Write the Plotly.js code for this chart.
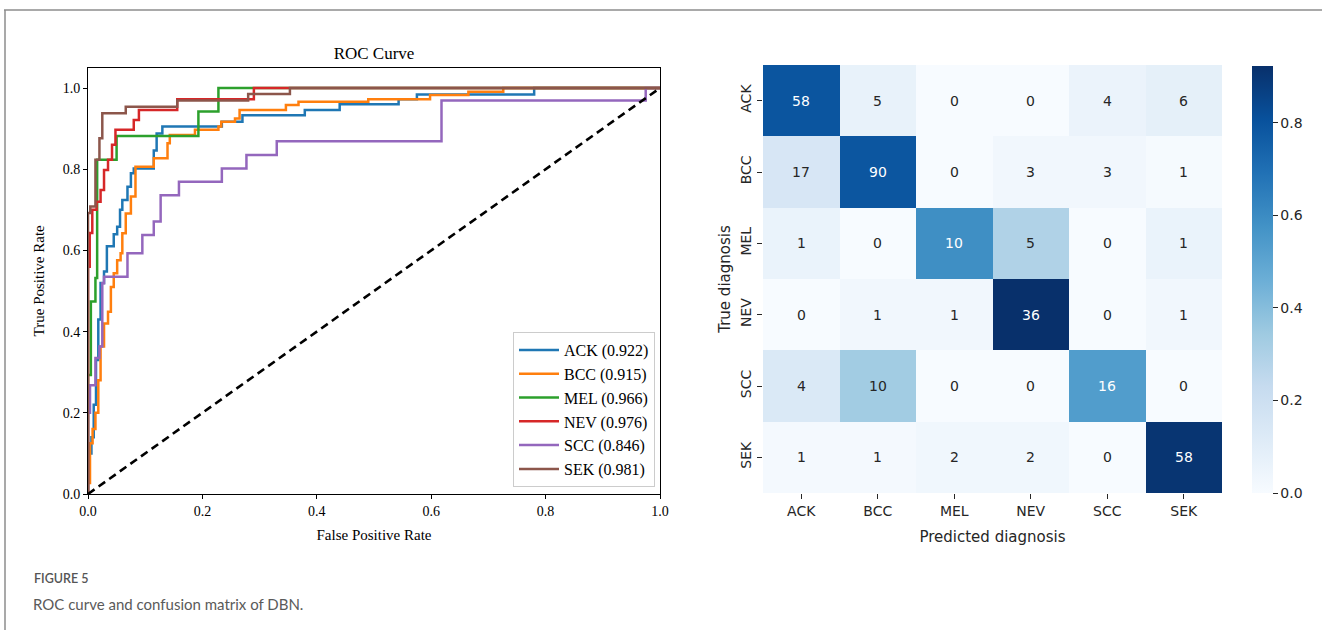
<!DOCTYPE html>
<html>
<head>
<meta charset="utf-8">
<script src="https://cdn.plot.ly/plotly-3.0.1.min.js"></script>
<style>
html,body{margin:0;padding:0;background:#fff;}
#chart{width:1322px;height:630px;}
</style>
</head>
<body>
<div id="chart"></div>
<script>
// ---------- ROC data (corner points) ----------
const classNames = ["ACK", "BCC", "MEL", "NEV", "SCC", "SEK"];
const aucValues = [0.922, 0.915, 0.966, 0.976, 0.846, 0.981];

const ackFpr = [0,0,0.006,0.006,0.010,0.010,0.014,0.014,0.018,0.018,0.022,0.022,0.028,0.028,0.033,0.033,0.045,0.045,0.051,0.051,0.056,0.056,0.060,0.060,0.069,0.069,0.075,0.075,0.080,0.080,0.115,0.115,0.120,0.120,0.130,0.130,0.234,0.234,0.270,0.270,0.379,0.379,0.440,0.440,0.543,0.543,0.575,0.575,0.780,0.780,1];
const ackTpr = [0,0.10,0.10,0.14,0.14,0.22,0.22,0.33,0.33,0.43,0.43,0.52,0.52,0.548,0.548,0.61,0.61,0.64,0.64,0.658,0.658,0.70,0.70,0.724,0.724,0.757,0.757,0.79,0.79,0.802,0.802,0.846,0.846,0.888,0.888,0.905,0.905,0.917,0.917,0.933,0.933,0.946,0.946,0.96,0.96,0.972,0.972,0.984,0.984,1.0,1.0];

const bccFpr = [0,0,0.0035,0.0035,0.008,0.008,0.013,0.013,0.018,0.018,0.022,0.022,0.028,0.028,0.035,0.035,0.040,0.040,0.045,0.045,0.051,0.051,0.057,0.057,0.060,0.060,0.066,0.066,0.075,0.075,0.083,0.083,0.115,0.115,0.139,0.139,0.143,0.143,0.187,0.187,0.228,0.228,0.233,0.233,0.257,0.257,0.265,0.265,0.346,0.346,0.368,0.368,0.490,0.490,0.598,0.598,0.665,0.665,0.726,0.726,1];
const bccTpr = [0,0.027,0.027,0.125,0.125,0.16,0.16,0.20,0.20,0.28,0.28,0.363,0.363,0.42,0.42,0.449,0.449,0.51,0.51,0.544,0.544,0.576,0.576,0.593,0.593,0.642,0.642,0.691,0.691,0.733,0.733,0.806,0.806,0.827,0.827,0.864,0.864,0.884,0.884,0.897,0.897,0.905,0.905,0.917,0.917,0.925,0.925,0.946,0.946,0.958,0.958,0.966,0.966,0.972,0.972,0.983,0.983,0.991,0.991,1.0,1.0];

const melFpr = [0,0,0.005,0.005,0.013,0.013,0.016,0.016,0.050,0.050,0.193,0.193,0.228,0.228,1];
const melTpr = [0,0.293,0.293,0.474,0.474,0.532,0.532,0.823,0.823,0.882,0.882,0.942,0.942,1.0,1.0];

const nevFpr = [0,0,0.003,0.003,0.0075,0.0075,0.015,0.015,0.022,0.022,0.028,0.028,0.035,0.035,0.042,0.042,0.048,0.048,0.080,0.080,0.089,0.089,0.156,0.156,0.290,0.290,1];
const nevTpr = [0,0.56,0.56,0.643,0.643,0.70,0.70,0.72,0.72,0.749,0.749,0.798,0.798,0.823,0.823,0.86,0.86,0.897,0.897,0.921,0.921,0.946,0.946,0.972,0.972,1.0,1.0];

const sccFpr = [0,0,0.0035,0.0035,0.013,0.013,0.020,0.020,0.025,0.025,0.028,0.028,0.069,0.069,0.095,0.095,0.115,0.115,0.127,0.127,0.159,0.159,0.234,0.234,0.277,0.277,0.330,0.330,0.618,0.618,0.975,0.975,1];
const sccTpr = [0,0.20,0.20,0.268,0.268,0.335,0.335,0.363,0.363,0.519,0.519,0.535,0.535,0.593,0.593,0.638,0.638,0.671,0.671,0.736,0.736,0.769,0.769,0.802,0.802,0.835,0.835,0.869,0.869,0.969,0.969,1.0,1.0];

const sekFpr = [0,0,0.004,0.004,0.013,0.013,0.020,0.020,0.025,0.025,0.066,0.066,0.156,0.156,0.280,0.280,0.353,0.353,1];
const sekTpr = [0,0.692,0.692,0.708,0.708,0.823,0.823,0.876,0.876,0.938,0.938,0.954,0.954,0.969,0.969,0.985,0.985,1.0,1.0];

const chanceLine = [0, 1];

// ---------- Confusion matrix data ----------
const predLabels = ["ACK", "BCC", "MEL", "NEV", "SCC", "SEK"];
const trueLabels = ["ACK", "BCC", "MEL", "NEV", "SCC", "SEK"];
const countsACK = [58, 5, 0, 0, 4, 6];
const countsBCC = [17, 90, 0, 3, 3, 1];
const countsMEL = [1, 0, 10, 5, 0, 1];
const countsNEV = [0, 1, 1, 36, 0, 1];
const countsSCC = [4, 10, 0, 0, 16, 0];
const countsSEK = [1, 1, 2, 2, 0, 58];
const colorbarTicks = [0, 0.2, 0.4, 0.6, 0.8];

// ---------- Build ----------
const W = 1322, H = 630;
const px = v => v / W;
const py = v => (H - v) / H;

const rocColors = ["#1f77b4", "#ff7f0e", "#2ca02c", "#d62728", "#9467bd", "#8c564b"];
const rocX = [ackFpr, bccFpr, melFpr, nevFpr, sccFpr, sekFpr];
const rocY = [ackTpr, bccTpr, melTpr, nevTpr, sccTpr, sekTpr];

const serif = "Liberation Serif, Times New Roman, serif";
const sans = "DejaVu Sans, sans-serif";

const traces = [];
classNames.forEach((c, i) => {
  traces.push({
    type: "scatter", mode: "lines",
    x: rocX[i], y: rocY[i],
    name: c + " (" + aucValues[i].toFixed(3) + ")",
    line: {color: rocColors[i], width: 2.5},
    xaxis: "x", yaxis: "y",
    hoverinfo: "skip"
  });
});
traces.push({
  type: "scatter", mode: "lines",
  x: chanceLine, y: chanceLine,
  line: {color: "#000", width: 2.6, dash: "8px,5px"},
  showlegend: false, xaxis: "x", yaxis: "y", hoverinfo: "skip"
});

const counts = [countsACK, countsBCC, countsMEL, countsNEV, countsSCC, countsSEK];
const norm = counts.map(r => { const s = r.reduce((a, b) => a + b, 0); return r.map(v => v / s); });
let zmax = 0; norm.forEach(r => r.forEach(v => { if (v > zmax) zmax = v; }));

const blues = [
  [0.0, "#f7fbff"], [0.125, "#deebf7"], [0.25, "#c6dbef"], [0.375, "#9ecae1"],
  [0.5, "#6baed6"], [0.625, "#4292c6"], [0.75, "#2171b5"], [0.875, "#08519c"], [1.0, "#08306b"]
];

traces.push({
  type: "heatmap",
  x: predLabels, y: trueLabels, z: norm,
  zmin: 0, zmax: zmax,
  colorscale: blues,
  xaxis: "x2", yaxis: "y2",
  hoverinfo: "skip",
  colorbar: {
    x: px(1252), xanchor: "left", xref: "paper",
    y: py(493), yanchor: "bottom", yref: "paper",
    len: (493 - 66) / H, lenmode: "fraction",
    thickness: 21, thicknessmode: "pixels",
    xpad: 0, ypad: 0,
    outlinewidth: 0,
    tickvals: colorbarTicks,
    ticktext: colorbarTicks.map(v => v.toFixed(1)),
    ticks: "outside", ticklen: 5, tickwidth: 1, tickcolor: "#262626",
    tickfont: {family: sans, size: 14, color: "#262626"}
  }
});

const annotations = [];
counts.forEach((row, r) => {
  row.forEach((v, c) => {
    annotations.push({
      x: predLabels[c], y: trueLabels[r], xref: "x2", yref: "y2",
      text: String(v), showarrow: false,
      font: {family: sans, size: 14, color: norm[r][c] > 0.45 ? "#ffffff" : "#262626"}
    });
  });
});
annotations.push({
  text: "FIGURE 5", xref: "paper", yref: "paper", x: px(32), y: py(578),
  xanchor: "left", yanchor: "middle", showarrow: false,
  font: {family: "Lato, sans-serif", size: 12.5, color: "#555555", weight: 600}
});
annotations.push({
  text: "ROC curve and confusion matrix of DBN.", xref: "paper", yref: "paper", x: px(31), y: py(604),
  xanchor: "left", yanchor: "middle", showarrow: false,
  font: {family: "Lato, sans-serif", size: 15, color: "#5a5a5a"}
});

const layout = {
  width: W, height: H,
  margin: {l: 0, r: 0, t: 0, b: 0},
  paper_bgcolor: "#fff", plot_bgcolor: "#fff",
  showlegend: true,
  title: {
    text: "ROC Curve", x: px(374), xanchor: "center", xref: "paper",
    y: py(53), yanchor: "middle", yref: "paper",
    font: {family: serif, size: 17, color: "#000"}
  },
  xaxis: {
    domain: [px(88), px(660)], range: [0, 1], anchor: "y",
    showgrid: false, zeroline: false,
    showline: true, mirror: true, linecolor: "#000", linewidth: 1,
    ticks: "outside", ticklen: 4, tickcolor: "#000",
    tickvals: [0, 0.2, 0.4, 0.6, 0.8, 1.0], ticktext: ["0.0", "0.2", "0.4", "0.6", "0.8", "1.0"],
    tickfont: {family: serif, size: 14, color: "#000"},
    title: {text: "False Positive Rate", font: {family: serif, size: 15, color: "#000"}, standoff: 11}
  },
  yaxis: {
    domain: [py(494), py(67.7)], range: [0, 1.05], anchor: "x",
    showgrid: false, zeroline: false,
    showline: true, mirror: true, linecolor: "#000", linewidth: 1,
    ticks: "outside", ticklen: 4, tickcolor: "#000",
    tickvals: [0, 0.2, 0.4, 0.6, 0.8, 1.0], ticktext: ["0.0", "0.2", "0.4", "0.6", "0.8", "1.0"],
    tickfont: {family: serif, size: 14, color: "#000"},
    title: {text: "True Positive Rate", font: {family: serif, size: 15, color: "#000"}, standoff: 14}
  },
  xaxis2: {
    domain: [px(763), px(1222)], anchor: "y2",
    showgrid: false, zeroline: false, showline: false,
    ticks: "outside", ticklen: 5, tickcolor: "#262626",
    tickfont: {family: sans, size: 14, color: "#262626"},
    title: {text: "Predicted diagnosis", font: {family: sans, size: 15, color: "#262626"}, standoff: 13}
  },
  yaxis2: {
    domain: [py(493), py(65)], anchor: "x2", autorange: "reversed",
    showgrid: false, zeroline: false, showline: false,
    ticks: "outside", ticklen: 5, tickcolor: "#262626",
    tickangle: -90,
    tickfont: {family: sans, size: 14, color: "#262626"},
    title: {text: "True diagnosis", font: {family: sans, size: 15, color: "#262626"}, standoff: 4}
  },
  legend: {
    x: px(655), xanchor: "right", xref: "paper",
    y: py(487), yanchor: "bottom", yref: "paper",
    bgcolor: "#fff", bordercolor: "#cccccc", borderwidth: 1,
    font: {family: serif, size: 16, color: "#000"},
    itemwidth: 40, tracegroupgap: 0
  },
  annotations: annotations,
  shapes: [
    {type: "line", xref: "paper", yref: "paper", x0: px(4), x1: 1, y0: py(10), y1: py(10), line: {color: "#8c8c8c", width: 1.5}},
    {type: "line", xref: "paper", yref: "paper", x0: px(5), x1: px(5), y0: py(10), y1: 0, line: {color: "#8c8c8c", width: 1.5}}
  ]
};

Plotly.newPlot("chart", traces, layout, {displayModeBar: false, staticPlot: true});
</script>
</body>
</html>
